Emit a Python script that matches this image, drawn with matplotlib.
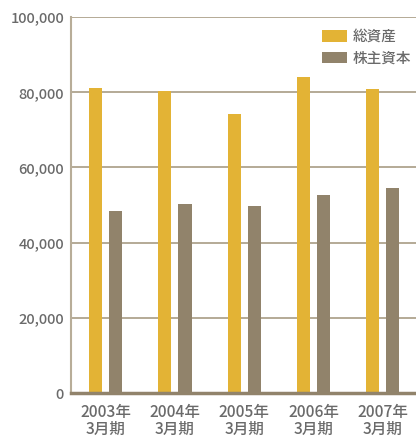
import numpy as np
import matplotlib
matplotlib.use('Agg')
import matplotlib.pyplot as plt

plt.rcParams['font.family'] = ['Noto Sans CJK JP', 'DejaVu Sans']

# data
years = ['2003年\n3月期', '2004年\n3月期', '2005年\n3月期', '2006年\n3月期', '2007年\n3月期']
total_assets = [81100, 80300, 74200, 84000, 80900]
equity = [48400, 50300, 49700, 52700, 54500]
series_names = ['総資産', '株主資本']

c_yellow = '#E3B335'
c_brown = '#91836B'
c_axis = '#A89C84'
c_text = '#6A6A6A'

fig = plt.figure(figsize=(4.16, 4.40), dpi=100)
ax = fig.add_axes([71/416, 1-393/440, 1-71/416, 376/440])

x = np.arange(len(years))
w = 0.19
ax.bar(x - 0.145, total_assets, w, color=c_yellow, label=series_names[0], zorder=3)
ax.bar(x + 0.145, equity, w, color=c_brown, label=series_names[1], zorder=3)

ax.set_xlim(-0.5, 4.48)
ax.set_ylim(0, 100000)
ax.set_yticks(np.arange(0, 100001, 20000))
ax.set_yticklabels(['{:,}'.format(v) for v in range(0, 100001, 20000)])
ax.set_xticks(x)
ax.set_xticklabels(years, linespacing=1.0)

ax.grid(axis='y', color=c_axis, lw=1.2, zorder=0)
ax.tick_params(axis='both', length=0, colors=c_text)
ax.tick_params(axis='x', pad=8, labelsize=11.2)
ax.tick_params(axis='y', pad=5, labelsize=10.5)
for lab in ax.get_xticklabels() + ax.get_yticklabels():
    lab.set_fontweight('medium')
for s in ['top', 'right']:
    ax.spines[s].set_visible(False)
ax.spines['left'].set_color('#B8AD98')
ax.spines['left'].set_linewidth(1.5)
ax.spines['bottom'].set_color(c_brown)
ax.spines['bottom'].set_linewidth(2.5)
ax.spines['bottom'].set_zorder(4)

leg = ax.legend(loc='upper right', bbox_to_anchor=(1.023, 1.0), frameon=False,
                handlelength=1.7, handleheight=0.82, handletextpad=0.35,
                labelspacing=0.5, fontsize=10.5)
for t in leg.get_texts():
    t.set_color(c_text)
    t.set_fontweight('medium')

fig.savefig('out.png', dpi=100)
